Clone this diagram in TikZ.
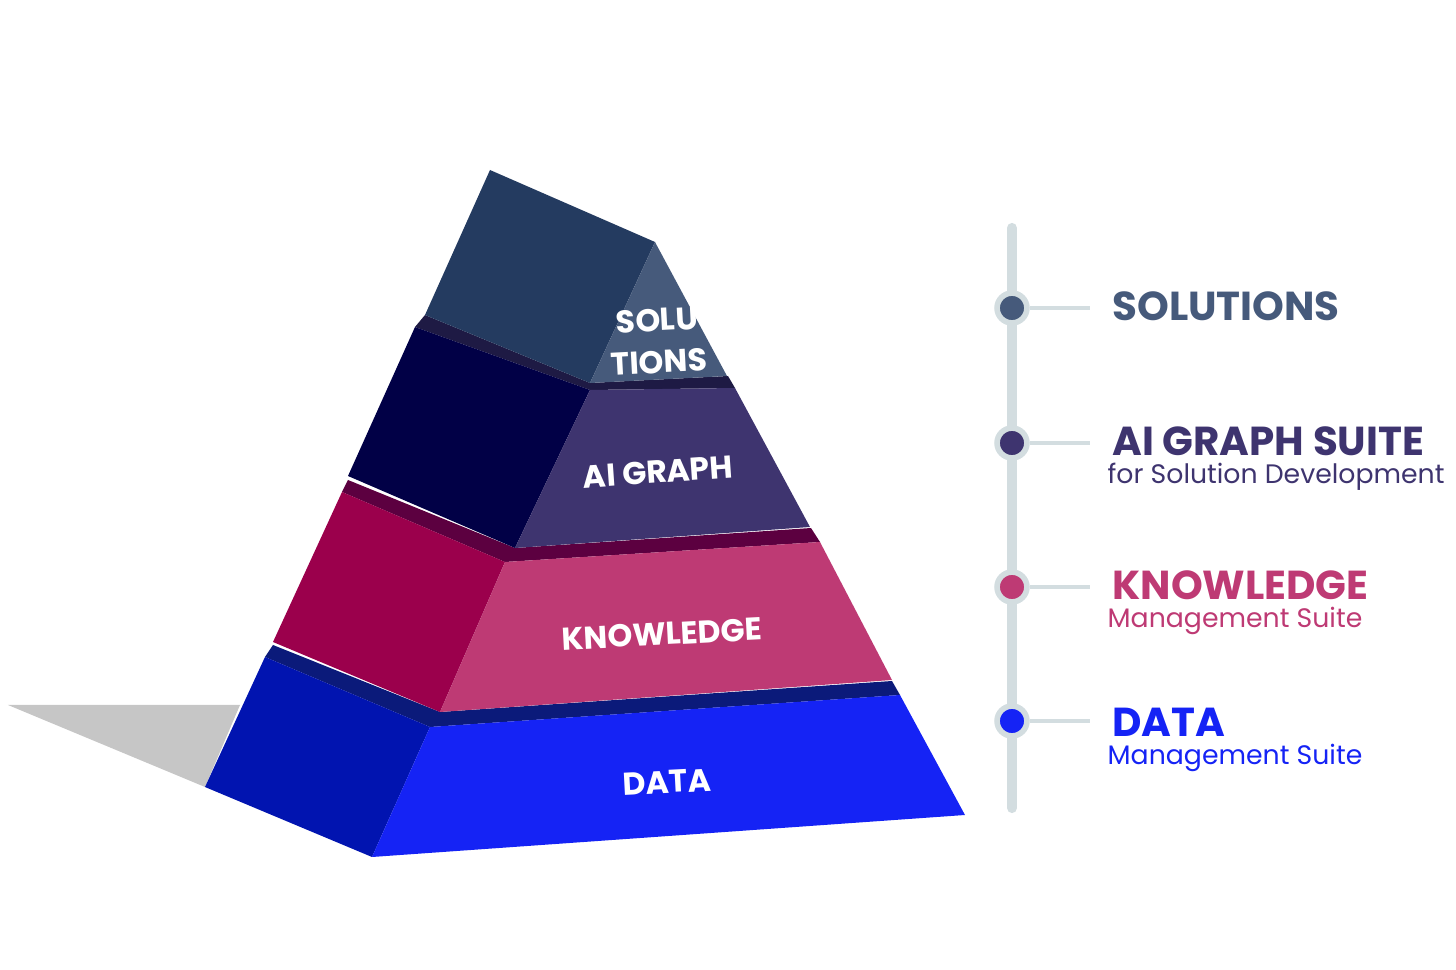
\documentclass[tikz,border=0pt]{standalone}
\usepackage{fontspec}
\setmainfont{Poppins}
\begin{document}
\begin{tikzpicture}[x=0.01cm,y=-0.01cm,
  lab/.style={text=white,font=\bfseries\fontsize{9}{10}\selectfont,align=center},
  ttl/.style={anchor=west,font=\bfseries\fontsize{11.5}{12}\selectfont},
  sub/.style={anchor=north west,font=\fontsize{7.6}{9}\selectfont,inner sep=0pt},
  dot/.style={circle,fill=#1,draw=white!80!black!30,line width=3.5pt,minimum size=22pt*0.2845*0.1,inner sep=3.2pt},
  tick/.style={draw=white!82!black!40!cyan!30,line width=1.2pt}]
\definecolor{dF}{HTML}{1523F5}\definecolor{dL}{HTML}{0114B0}\definecolor{dS}{HTML}{0B1A7A}
\definecolor{kF}{HTML}{BE3A74}\definecolor{kL}{HTML}{9B004C}\definecolor{kS}{HTML}{5C0040}
\definecolor{aF}{HTML}{3E346F}\definecolor{aL}{HTML}{010046}\definecolor{aS}{HTML}{1E1A44}
\definecolor{sF}{HTML}{465A7B}\definecolor{sL}{HTML}{243B60}
\definecolor{tl}{HTML}{D3DDE0}
\useasboundingbox (0,0) rectangle (1456,970);
% shadow
\fill[gray!45] (8,705) -- (240,705) -- (205,787) -- cycle;
% DATA
\fill[dS] (265,657) -- (430,727) -- (900,695) -- (892,681) -- (440,712) -- (273,645) -- cycle;
\fill[dL] (265,657) -- (430,727) -- (372,857) -- (205,787) -- cycle;
\fill[dF] (430,727) -- (900,695) -- (965,815) -- (372,857) -- cycle;
% KNOWLEDGE
\fill[kS] (342,492) -- (505,562) -- (820,542) -- (811,528) -- (515,548) -- (348,480) -- cycle;
\fill[kL] (342,492) -- (505,562) -- (440,712) -- (273,642) -- cycle;
\fill[kF] (505,562) -- (820,542) -- (892,680) -- (440,712) -- cycle;
% AI GRAPH
\fill[aS] (415,327) -- (590,390) -- (735,388) -- (728,376) -- (590,383) -- (425,315) -- cycle;
\fill[aL] (415,327) -- (590,390) -- (515,548) -- (348,476) -- cycle;
\fill[aF] (590,390) -- (735,388) -- (810,527) -- (515,548) -- cycle;
% SOLUTIONS
\fill[sL] (490,170) -- (655,242) -- (590,383) -- (425,315) -- cycle;
\fill[sF] (655,242) -- (727,376) -- (590,383) -- cycle;
% labels
\node[lab,rotate=3] (ld) at (667,782) {DATA};
\node[lab,rotate=3] (lk) at (662,634) {KNOWLEDGE};
\node[lab,rotate=4] (la) at (658,472) {AI GRAPH};
\node[lab,rotate=3,font=\bfseries\fontsize{9}{12}\selectfont] (ls) at (658,341) {SOLU\\TIONS};
% timeline
\draw[tl,line width=2.9pt,line cap=round] (1012,228) -- (1012,808);
\foreach \y/\c/\n in {308/sF/s,443/aF/a,587/kF/k,721/dF/d}{
  \coordinate (e\n) at (1090,\y);
  \node[circle,fill=\c,draw=tl,line width=1.6pt,inner sep=0pt,minimum size=8.5pt] (c\n) at (1012,\y) {};
  \draw[tl,line width=1pt] (c\n) -- (e\n);
}
\node[ttl,text=sF] (ts) at (1100,306) {SOLUTIONS};
\node[ttl,text=aF] (ta) at (1100,441) {AI GRAPH SUITE};
\node[sub,text=aF] (sa) at (1107,462) {for Solution Development};
\node[ttl,text=kF] (tk) at (1100,585) {KNOWLEDGE};
\node[sub,text=kF] (sk) at (1107,606) {Management Suite};
\node[ttl,text=dF] (td) at (1100,722) {DATA};
\node[sub,text=dF] (sd) at (1107,743) {Management Suite};
\end{tikzpicture}
\end{document}
